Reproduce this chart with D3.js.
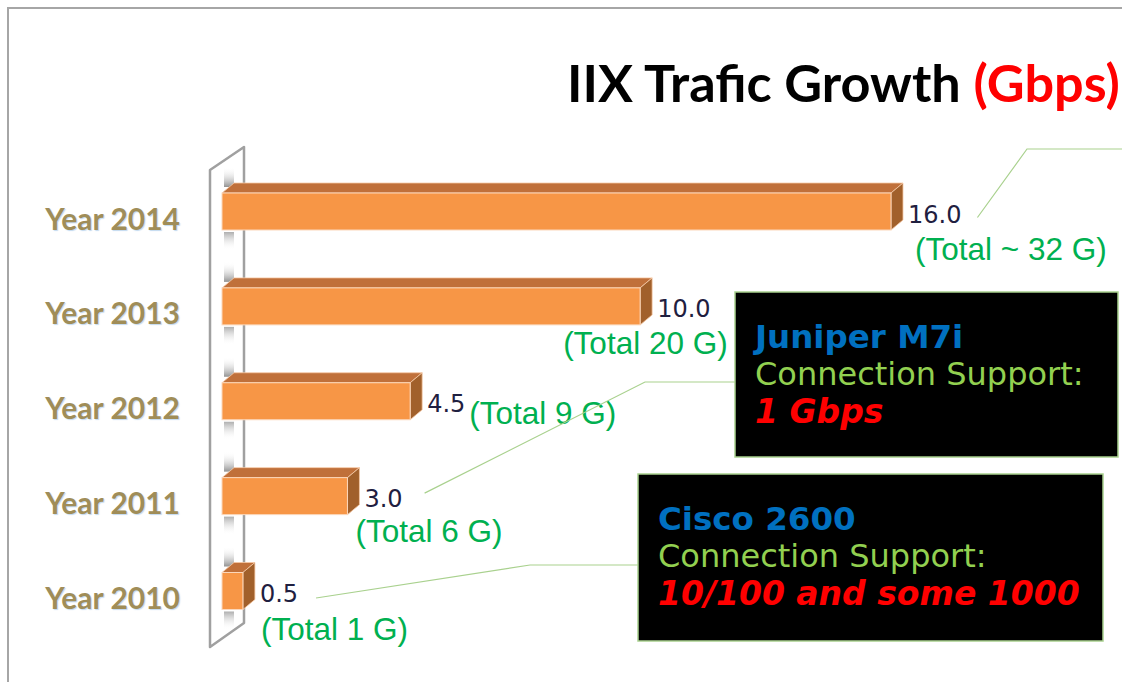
<!DOCTYPE html>
<html>
<head>
<meta charset="utf-8">
<script src="https://cdn.jsdelivr.net/npm/d3@7"></script>
<style>
  html, body { margin: 0; padding: 0; background: #fff; }
  svg { display: block; }
</style>
</head>
<body>
<script>
// ---- data ----
const years = ["Year 2014", "Year 2013", "Year 2012", "Year 2011", "Year 2010"];
const traffic = [16.0, 10.0, 4.5, 3.0, 0.5];
const totals = ["(Total ~ 32 G)", "(Total 20 G)", "(Total 9 G)", "(Total 6 G)", "(Total 1 G)"];
const titleMain = "IIX Trafic Growth ";
const titleUnit = "(Gbps)";
const juniperLines = ["Juniper M7i", "Connection Support:", "1 Gbps"];
const ciscoLines = ["Cisco 2600", "Connection Support:", "10/100 and some 1000"];

// ---- layout ----
const width = 1122, height = 682;
const barH = 37;
const depth = { dx: 12, dy: -10 };
// where the green "total" notes sit, relative to the value label
const noteOffsets = [[7, 48], [-94, 48], [42, 23], [-9, 46], [1, 49]];

const svg = d3.select("body").append("svg")
  .attr("width", width)
  .attr("height", height);

const defs = svg.append("defs");
const shUp = defs.append("linearGradient").attr("id", "shUp")
  .attr("x1", 0).attr("y1", 1).attr("x2", 0).attr("y2", 0);
shUp.append("stop").attr("offset", "0%").attr("stop-color", "#7f7f7f").attr("stop-opacity", 0.85);
shUp.append("stop").attr("offset", "100%").attr("stop-color", "#ffffff").attr("stop-opacity", 0);
const shDown = defs.append("linearGradient").attr("id", "shDown")
  .attr("x1", 0).attr("y1", 0).attr("x2", 0).attr("y2", 1);
shDown.append("stop").attr("offset", "0%").attr("stop-color", "#8c8c8c").attr("stop-opacity", 0.7);
shDown.append("stop").attr("offset", "100%").attr("stop-color", "#ffffff").attr("stop-opacity", 0);

// frame
svg.append("path")
  .attr("d", `M8,${height} L8,8 L${width},8`)
  .attr("fill", "none")
  .attr("stroke", "#a6a6a6")
  .attr("stroke-width", 2);

// scales
const x = d3.scaleLinear().domain([0, 16]).range([222, 891]);
const y = d3.scalePoint().domain(years).range([211.5, 591]);

// back wall (3d)
const wTop = y(years[0]) - 41.5, wBot = y(years[years.length - 1]) + 56;
const wall = svg.append("g");
wall.append("path")
  .attr("d", `M210,${wBot} L210,${wTop} L244,${wTop - 23} L244,${wBot - 24} Z`)
  .attr("fill", "#fff")
  .attr("stroke", "#a0a0a0")
  .attr("stroke-width", 2.5)
  .attr("stroke-linejoin", "round");

// soft shadows of the bars on the wall
years.forEach(yr => {
  const top = y(yr) - barH / 2;
  wall.append("rect")
    .attr("x", 224).attr("y", top - 26).attr("width", 10).attr("height", 20)
    .attr("fill", "url(#shUp)");
  wall.append("rect")
    .attr("x", 224).attr("y", top + barH + 2).attr("width", 10).attr("height", 18)
    .attr("fill", "url(#shDown)");
});

// bars
const bars = svg.append("g").selectAll("g.bar")
  .data(years.map((yr, i) => ({ year: yr, value: traffic[i], total: totals[i], i })))
  .join("g").attr("class", "bar");

bars.append("path")
  .attr("d", d => {
    const x0 = x(0), x1 = x(d.value), t = y(d.year) - barH / 2;
    return `M${x0},${t} L${x1},${t} L${x1 + depth.dx},${t + depth.dy} L${x0 + depth.dx},${t + depth.dy} Z`;
  })
  .attr("fill", "#c0703a")
  .attr("stroke", "#f6c9a6")
  .attr("stroke-width", 0.8);

bars.append("path")
  .attr("d", d => {
    const x1 = x(d.value), t = y(d.year) - barH / 2, b = t + barH;
    return `M${x1},${t} L${x1 + depth.dx},${t + depth.dy} L${x1 + depth.dx},${b + depth.dy} L${x1},${b} Z`;
  })
  .attr("fill", "#a1602b")
  .attr("stroke", "#f6c9a6")
  .attr("stroke-width", 0.8);

bars.append("rect")
  .attr("x", x(0))
  .attr("y", d => y(d.year) - barH / 2)
  .attr("width", d => x(d.value) - x(0))
  .attr("height", barH)
  .attr("fill", "#f79646")
  .attr("stroke", "#fbd7bb")
  .attr("stroke-width", 1);

// category labels
svg.append("g").selectAll("text")
  .data(years)
  .join("text")
  .attr("x", 180)
  .attr("y", d => y(d) + 18)
  .attr("text-anchor", "end")
  .attr("font-family", "Lato, 'Open Sans', sans-serif")
  .attr("font-weight", 700)
  .attr("font-size", 30)
  .attr("fill", "#a08d58")
  .style("text-shadow", "1px 1px 1px rgba(120,170,220,0.45)")
  .text(d => d);

// value labels
const valLabels = bars.append("text")
  .attr("x", d => x(d.value) + 17)
  .attr("y", d => y(d.year) + 11)
  .attr("font-family", "'DejaVu Sans', Verdana, sans-serif")
  .attr("font-size", 24)
  .attr("fill", "#1f2040")
  .text(d => d3.format(".1f")(d.value));

// total notes
bars.append("text")
  .attr("x", d => x(d.value) + 17 + noteOffsets[d.i][0])
  .attr("y", d => y(d.year) + noteOffsets[d.i][1])
  .attr("font-family", "'Liberation Sans', Arial, sans-serif")
  .attr("font-size", 31.5)
  .attr("fill", "#00b050")
  .text(d => d.total);

// leader lines from value labels to the callouts
const leaders = [
  { i: 0, gap: 16, dy: 6, pts: [[1027, 149], [width, 149]] },
  { i: 3, gap: 22, dy: -3, pts: [[645, 382], [735, 382]] },
  { i: 4, gap: 18, dy: 7, pts: [[530, 565], [638, 565]] }
];
const labelNodes = valLabels.nodes();
leaders.forEach(l => {
  const sx = x(traffic[l.i]) + 17 + labelNodes[l.i].getComputedTextLength() + l.gap;
  const sy = y(years[l.i]) + l.dy;
  svg.append("path")
    .attr("d", d3.line()([[sx, sy], ...l.pts]))
    .attr("fill", "none")
    .attr("stroke", "#a9d18e")
    .attr("stroke-width", 1.2);
});

// callout boxes
function callout(box, lines) {
  const g = svg.append("g").attr("transform", `translate(${box.x},${box.y})`);
  g.append("rect")
    .attr("width", box.w).attr("height", box.h)
    .attr("fill", "#000")
    .attr("stroke", "#a9d18e")
    .attr("stroke-width", 1.5);
  const t = g.append("text")
    .attr("font-family", "'DejaVu Sans', Verdana, sans-serif");
  t.append("tspan").attr("x", 20).attr("y", 56).attr("font-size", 32.5)
    .attr("font-weight", 700).attr("fill", "#0070c0").text(lines[0]);
  t.append("tspan").attr("x", 20).attr("y", 93).attr("font-size", 32)
    .attr("fill", "#92d050").text(lines[1]);
  t.append("tspan").attr("x", 20).attr("y", 131).attr("font-size", 33)
    .attr("font-weight", 700).attr("font-style", "italic").attr("fill", "#ff0000").text(lines[2]);
}
callout({ x: 735, y: 292, w: 383, h: 165 }, juniperLines);
callout({ x: 638, y: 474, w: 465, h: 167 }, ciscoLines);

// title, fitted to its width in the reference
const title = svg.append("text")
  .attr("x", 567)
  .attr("y", 102)
  .attr("font-family", "Lato, 'Open Sans', sans-serif")
  .attr("font-weight", 700)
  .attr("font-size", 50);
title.append("tspan").attr("fill", "#000").text(titleMain);
title.append("tspan").attr("fill", "#ff0000").text(titleUnit);
const tw = title.node().getComputedTextLength();
title.attr("font-size", 50 * 553 / tw);
</script>
</body>
</html>
